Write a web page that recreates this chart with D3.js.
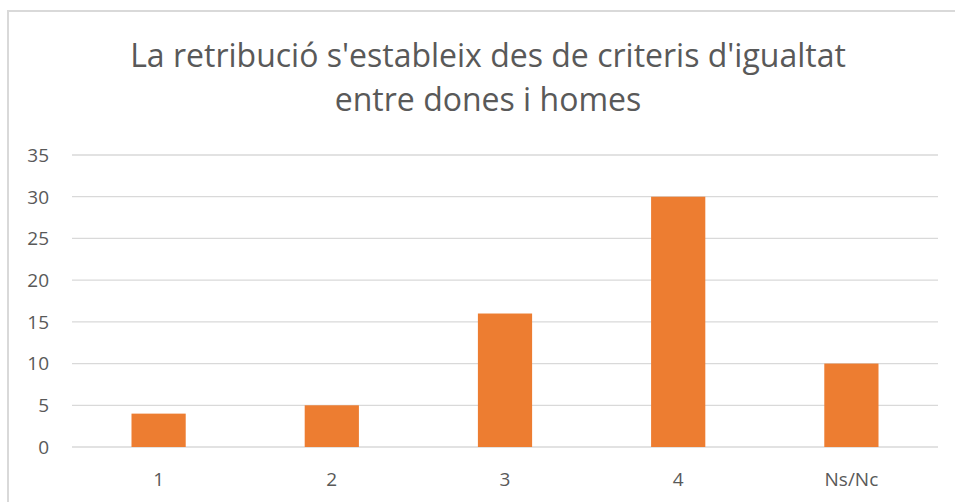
<!DOCTYPE html>
<html>
<head>
    <meta charset="utf-8">
    <title>La retribució s'estableix des de criteris d'igualtat</title>
    <script src="https://d3js.org/d3.v7.min.js"></script>
    <style>
        body {
            margin: 0;
            padding: 0;
            background: white;
            font-family: "Open Sans", sans-serif;
        }
        .tick-label {
            fill: #595959;
            font-size: 19px;
        }
        .chart-title {
            fill: #595959;
            font-size: 32px;
            text-anchor: middle;
        }
        .grid-line {
            stroke: #d9d9d9;
            stroke-width: 1.3;
        }
    </style>
</head>
<body>
    <svg id="chart" width="955" height="502"></svg>
    <script>
        const categories = ['1', '2', '3', '4', 'Ns/Nc'];
        const values = [4, 5, 16, 30, 10];
        const yTicks = [0, 5, 10, 15, 20, 25, 30, 35];
        const titleLines = ["La retribució s'estableix des de criteris d'igualtat", 'entre dones i homes'];

        const svg = d3.select('#chart');
        const margin = { top: 155, right: 17, bottom: 55, left: 72 };
        const width = 955, height = 502;

        // chart frame (right and bottom edges fall outside the picture)
        svg.append('rect')
            .attr('x', 8)
            .attr('y', 11)
            .attr('width', 980)
            .attr('height', 520)
            .attr('fill', 'white')
            .attr('stroke', '#d9d9d9')
            .attr('stroke-width', 2);

        const x = d3.scaleBand()
            .domain(categories)
            .range([margin.left, width - margin.right])
            .paddingInner(0.687)
            .paddingOuter(0.3435);

        const y = d3.scaleLinear()
            .domain([0, 35])
            .range([height - margin.bottom, margin.top]);

        // gridlines
        svg.append('g')
            .selectAll('line')
            .data(yTicks)
            .join('line')
            .attr('class', 'grid-line')
            .attr('x1', margin.left)
            .attr('x2', width - margin.right)
            .attr('y1', d => y(d))
            .attr('y2', d => y(d));

        // y tick labels
        svg.append('g')
            .selectAll('text')
            .data(yTicks)
            .join('text')
            .attr('class', 'tick-label')
            .attr('x', 49)
            .attr('y', d => y(d))
            .attr('dy', '0.36em')
            .attr('text-anchor', 'end')
            .text(d => d);

        // bars
        svg.append('g')
            .selectAll('rect')
            .data(values)
            .join('rect')
            .attr('x', (d, i) => x(categories[i]))
            .attr('width', x.bandwidth())
            .attr('y', d => y(d))
            .attr('height', d => y(0) - y(d))
            .attr('fill', '#ed7d31');

        // category labels
        svg.append('g')
            .selectAll('text')
            .data(categories)
            .join('text')
            .attr('class', 'tick-label')
            .attr('x', d => x(d) + x.bandwidth() / 2)
            .attr('y', 486)
            .attr('text-anchor', 'middle')
            .text(d => d);

        // title
        svg.append('g')
            .selectAll('text')
            .data(titleLines)
            .join('text')
            .attr('class', 'chart-title')
            .attr('x', 488)
            .attr('y', (d, i) => 67 + i * 44)
            .text(d => d);
    </script>
</body>
</html>
